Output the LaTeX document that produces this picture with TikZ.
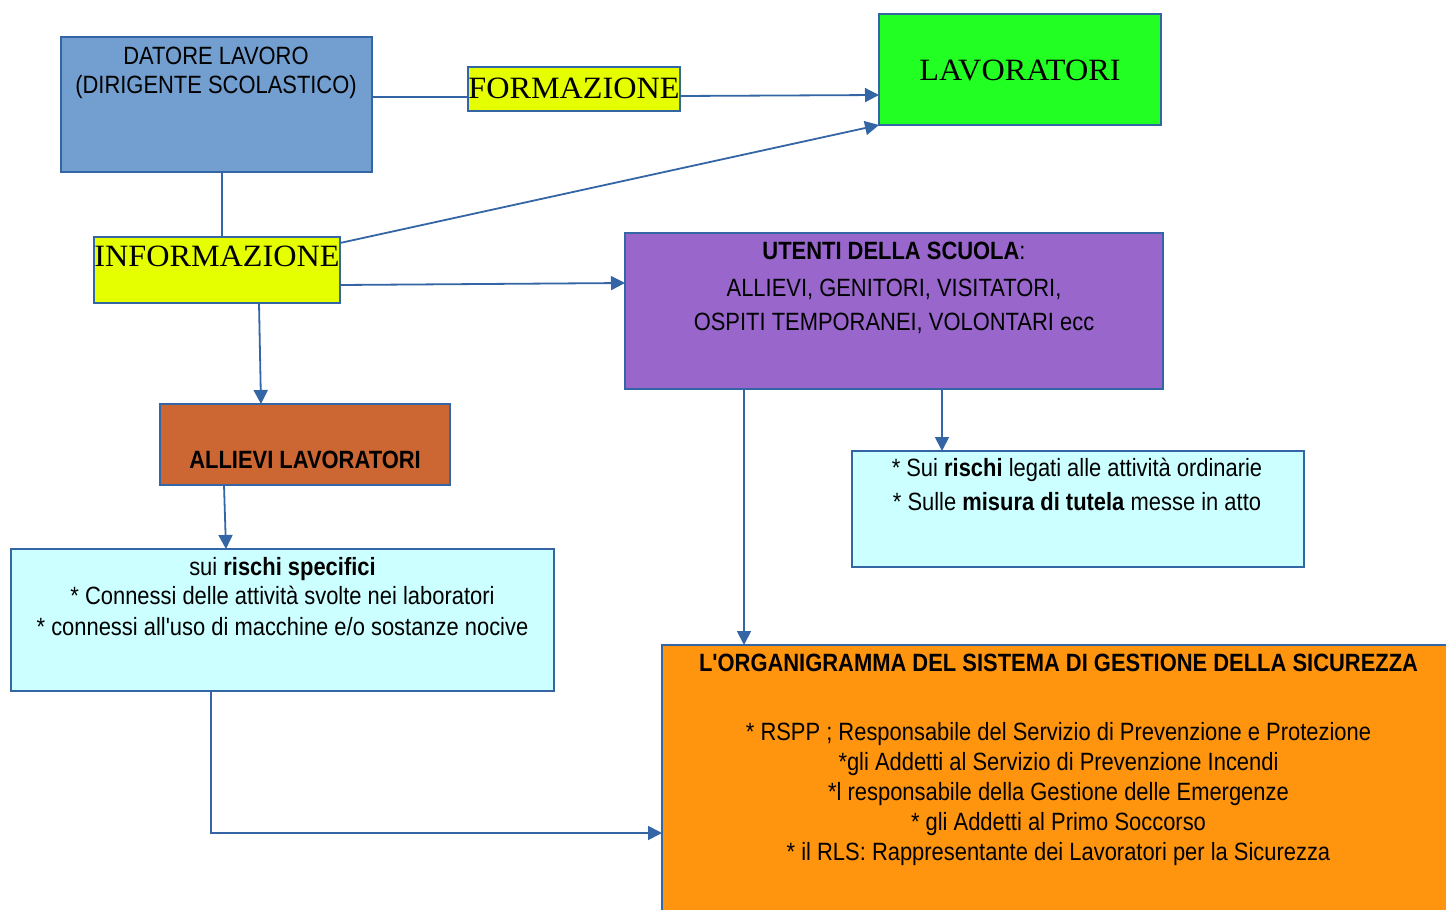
\documentclass[tikz,border=0pt]{standalone}
\usepackage{fontspec}
\setmainfont[FakeStretch=1.04]{Liberation Serif}
\newfontfamily\narrowsans[FakeStretch=0.877]{Liberation Sans}
\usetikzlibrary{arrows.meta}
\definecolor{edgeblue}{HTML}{3465A4}
\definecolor{datorefill}{HTML}{729FCF}
\definecolor{yellowfill}{HTML}{E6FF00}
\definecolor{greenfill}{HTML}{22FF22}
\definecolor{violetfill}{HTML}{9966CC}
\definecolor{brownfill}{HTML}{CC6633}
\definecolor{cyanfill}{HTML}{CCFFFF}
\definecolor{orangefill}{HTML}{FF950E}
\begin{document}
\begin{tikzpicture}[x=1pt,y=-1pt,
  box/.style={draw=edgeblue, line width=1.8pt, inner sep=0pt, outer sep=0pt, anchor=north west},
  sanstext/.style={font=\narrowsans\fontsize{25}{30}\selectfont, inner sep=0pt, anchor=base, text=black},
  seriftext/.style={font=\fontsize{31}{37}\selectfont, inner sep=0pt, anchor=base, text=black},
  link/.style={draw=edgeblue, line width=1.8pt},
  arrowlink/.style={link, -{Triangle[length=14pt,width=14pt]}}]
\useasboundingbox (0,0) rectangle (1446,910);
\clip (0,0) rectangle (1446,910);

% boxes
\node[box, fill=datorefill, minimum width=311pt, minimum height=135pt] (datore) at (61,37) {};
\node[box, fill=yellowfill, minimum width=212pt, minimum height=44pt] (form) at (468,67) {};
\node[box, fill=greenfill, minimum width=282pt, minimum height=111pt] (lav) at (879,14) {};
\node[box, fill=yellowfill, minimum width=246pt, minimum height=66pt] (info) at (94,237) {};
\node[box, fill=violetfill, minimum width=538pt, minimum height=156pt] (utenti) at (625,233) {};
\node[box, fill=brownfill, minimum width=290pt, minimum height=81pt] (allievi) at (160,404) {};
\node[box, fill=cyanfill, minimum width=543pt, minimum height=142pt] (rischi) at (11,549) {};
\node[box, fill=cyanfill, minimum width=452pt, minimum height=116pt] (sui) at (852,451) {};
\node[box, fill=orangefill, minimum width=800pt, minimum height=280pt] (org) at (662,645) {};

% texts
\node[sanstext] (datoreA) at (216,64) {DATORE LAVORO};
\node[sanstext] (datoreB) at (216,93) {(DIRIGENTE SCOLASTICO)};
\node[seriftext] (formT) at (574,98.5) {FORMAZIONE};
\node[seriftext] (lavT) at (1020,80.5) {LAVORATORI};
\node[seriftext] (infoT) at (217,266) {INFORMAZIONE};
\node[sanstext] (utentiA) at (894,259) {\textbf{UTENTI DELLA SCUOLA}:};
\node[sanstext] (utentiB) at (894,296) {ALLIEVI, GENITORI, VISITATORI,};
\node[sanstext] (utentiC) at (894,330) {OSPITI TEMPORANEI, VOLONTARI ecc};
\node[sanstext] (allieviT) at (305,468) {\textbf{ALLIEVI LAVORATORI}};
\node[sanstext] (rischiA) at (282.5,575) {sui \textbf{rischi specifici}};
\node[sanstext] (rischiB) at (282.5,604) {* Connessi delle attività svolte nei laboratori};
\node[sanstext] (rischiC) at (282.5,635) {* connessi all'uso di macchine e/o sostanze nocive};
\node[sanstext] (suiA) at (1077,476) {* Sui \textbf{rischi} legati alle attività ordinarie};
\node[sanstext] (suiB) at (1077,510.5) {* Sulle \textbf{misura di tutela} messe in atto};
\node[sanstext] (orgA) at (1058.5,671) {\textbf{L'ORGANIGRAMMA DEL SISTEMA DI GESTIONE DELLA SICUREZZA}};
\node[sanstext] (orgB) at (1058.5,740) {* RSPP ; Responsabile del Servizio di Prevenzione e Protezione};
\node[sanstext] (orgC) at (1058.5,770) {*gli Addetti al Servizio di Prevenzione Incendi};
\node[sanstext] (orgD) at (1058.5,800.5) {*l responsabile della Gestione delle Emergenze};
\node[sanstext] (orgE) at (1058.5,830.5) {* gli Addetti al Primo Soccorso};
\node[sanstext] (orgF) at (1058.5,860.5) {* il RLS: Rappresentante dei Lavoratori per la Sicurezza};

% connectors
\draw[link] ([yshift=7.5pt]datore.east) -- ([yshift=-8pt]form.west);
\draw[arrowlink] ([yshift=-7pt]form.east) -- ([yshift=-25.5pt]lav.west);
\draw[link] ([xshift=5.5pt]datore.south) -- ([xshift=5pt]info.north);
\draw[arrowlink] ([yshift=-6pt]info.north east) -- (lav.south west);
\draw[arrowlink] ([yshift=-15pt]info.east) -- ([yshift=28pt]utenti.west);
\draw[arrowlink] ([xshift=42pt]info.south) -- ([xshift=-44pt]allievi.north);
\draw[arrowlink] ([xshift=-81pt]allievi.south) -- ([xshift=-56.5pt]rischi.north);
\draw[arrowlink] ([xshift=119pt]utenti.south west) -- ([xshift=82pt]org.north west);
\draw[arrowlink] ([xshift=48pt]utenti.south) -- ([xshift=-136pt]sui.north);
\draw[arrowlink] ([xshift=-71.5pt]rischi.south) |- ([yshift=-188pt]org.north west);
\end{tikzpicture}
\end{document}
